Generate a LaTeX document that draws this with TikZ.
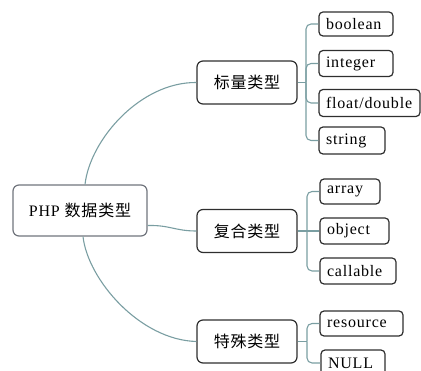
\documentclass[tikz,border=0pt]{standalone}
\usepackage{fontspec}
\setmainfont{Liberation Serif}[LetterSpace=5]
\newfontfamily\cjk{Noto Sans CJK SC}[LetterSpace=5]
\definecolor{conn}{HTML}{7A9EA2}
\definecolor{bord}{HTML}{2E2E2E}
\definecolor{rootbord}{HTML}{70747C}
\tikzset{
  boxbase/.style={draw=bord, line width=1.2pt, rounded corners=6pt, inner sep=0pt, text=black},
  rootbox/.style={boxbase, draw=rootbord, minimum width=134pt, minimum height=51pt, font=\fontsize{16}{18}\selectfont},
  groupbox/.style={boxbase, minimum width=100pt, minimum height=43pt, font=\cjk\fontsize{16}{18}\selectfont},
  leafbox/.style={boxbase, rounded corners=4pt, inner xsep=7pt, align=left, font=\fontsize{16}{18}\selectfont},
  link/.style={draw=conn, line width=1.1pt},
  branch/.style={link, rounded corners=5pt}
}
\begin{document}
\begin{tikzpicture}[x=1pt,y=-1pt]
\useasboundingbox (0,0) rectangle (421,371);
% root
\node[rootbox] (root) at (80,210.5) {PHP {\cjk 数据类型}};
% groups
\node[groupbox] (g1) at (247,82.5) {标量类型};
\node[groupbox] (g2) at (247,231) {复合类型};
\node[groupbox] (g3) at (247,341.5) {特殊类型};
% leaves group 1
\node[leafbox, text width=60pt, minimum height=24pt] (boolean) at (356,24) {boolean};
\node[leafbox, text width=60pt, minimum height=26pt] (integer) at (356,63.5) {integer};
\node[leafbox, text width=87pt, minimum height=27pt] (float) at (369.5,103) {float/double};
\node[leafbox, text width=52pt, minimum height=27pt] (string) at (352,140.5) {string};
% leaves group 2
\node[leafbox, text width=46pt, minimum height=25pt] (array) at (350,191.5) {array};
\node[leafbox, text width=55pt, minimum height=26pt] (object) at (354.5,231) {object};
\node[leafbox, text width=62pt, minimum height=26pt] (callable) at (358,271) {callable};
% leaves group 3
\node[leafbox, text width=69pt, minimum height=25pt] (resource) at (361.5,323.5) {resource};
\node[leafbox, text width=50pt, minimum height=26pt] (null) at (353,363) {NULL};
% trunk points
\coordinate (t1) at (306,82.5);
\coordinate (t2) at (307,231);
\coordinate (t3) at (307,341.5);
% root to groups
\draw[link] ([xshift=5pt]root.north) .. controls (90,140) and (140,82) .. (g1.west);
\draw[link] ([yshift=-15pt]root.east) .. controls (170,225) and (175,231) .. (g2.west);
\draw[link] ([xshift=3pt]root.south) .. controls (88,280) and (140,340) .. (g3.west);
% group trunks
\draw[link] (g1.east) -- (t1);
\draw[branch] (t1) |- (boolean.west);
\draw[branch] (t1) |- (integer.west);
\draw[branch] (t1) |- (float.west);
\draw[branch] (t1) |- (string.west);
\draw[link] (g2.east) -- (t2);
\draw[branch] (t2) |- (array.west);
\draw[link] (t2) -- (object.west);
\draw[branch] (t2) |- (callable.west);
\draw[link] (g3.east) -- (t3);
\draw[branch] (t3) |- (resource.west);
\draw[branch] (t3) |- (null.west);
\end{tikzpicture}
\end{document}
